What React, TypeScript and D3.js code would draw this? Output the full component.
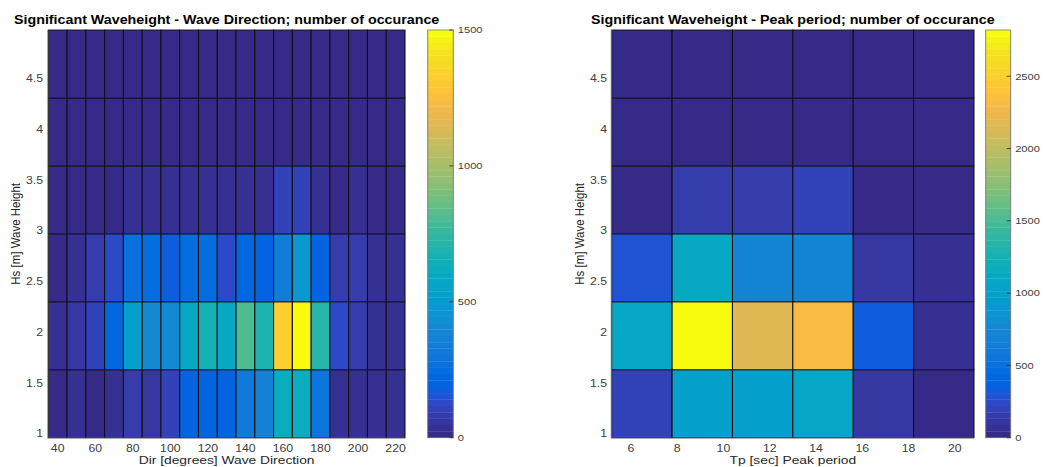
import React from "react";
import * as d3 from "d3";

// MATLAB parula(64) colormap
const PARULA: number[][] = [
  [0.2081, 0.1663, 0.5292], [0.2116, 0.1898, 0.5777], [0.2123, 0.2138, 0.627], [0.2081, 0.2386, 0.6771],
  [0.1959, 0.2645, 0.7279], [0.1707, 0.2919, 0.7792], [0.1253, 0.3242, 0.8303], [0.0591, 0.3598, 0.8683],
  [0.0117, 0.3875, 0.882], [0.006, 0.4086, 0.8828], [0.0165, 0.4266, 0.8786], [0.0329, 0.443, 0.872],
  [0.0498, 0.4586, 0.8641], [0.0629, 0.4737, 0.8554], [0.0723, 0.4887, 0.8467], [0.0779, 0.504, 0.8384],
  [0.0793, 0.52, 0.8312], [0.0749, 0.5375, 0.8263], [0.0641, 0.557, 0.824], [0.0488, 0.5772, 0.8228],
  [0.0343, 0.5966, 0.8199], [0.0265, 0.6137, 0.8135], [0.0239, 0.6287, 0.8038], [0.0231, 0.6418, 0.7913],
  [0.0228, 0.6535, 0.7768], [0.0267, 0.6642, 0.7607], [0.0384, 0.6743, 0.7436], [0.059, 0.6838, 0.7254],
  [0.0843, 0.6928, 0.7062], [0.1133, 0.7015, 0.6859], [0.1453, 0.7098, 0.6646], [0.1801, 0.7177, 0.6424],
  [0.2178, 0.725, 0.6193], [0.2586, 0.7317, 0.5954], [0.3022, 0.7376, 0.5712], [0.3482, 0.7424, 0.5473],
  [0.3953, 0.7459, 0.5244], [0.442, 0.7481, 0.5033], [0.4871, 0.7491, 0.484], [0.53, 0.7491, 0.4661],
  [0.5709, 0.7485, 0.4494], [0.6099, 0.7473, 0.4337], [0.6473, 0.7456, 0.4188], [0.6834, 0.7435, 0.4044],
  [0.7184, 0.7411, 0.3905], [0.7525, 0.7384, 0.3768], [0.7858, 0.7356, 0.3633], [0.8185, 0.7327, 0.3498],
  [0.8507, 0.7299, 0.336], [0.8824, 0.7274, 0.3217], [0.9139, 0.7258, 0.3063], [0.945, 0.7261, 0.2886],
  [0.9739, 0.7314, 0.2666], [0.9938, 0.7455, 0.2403], [0.999, 0.7653, 0.2164], [0.9955, 0.7861, 0.1967],
  [0.988, 0.8066, 0.1794], [0.9789, 0.8271, 0.1633], [0.9697, 0.8481, 0.1475], [0.9626, 0.8705, 0.1309],
  [0.9589, 0.8949, 0.1132], [0.9598, 0.9218, 0.0948], [0.9661, 0.9514, 0.0755], [0.9763, 0.9831, 0.0538],
];
const parulaColors = PARULA.map(([r, g, b]) => d3.rgb(r * 255, g * 255, b * 255).formatHex());

// Significant wave height bins (m), shared by both panels
const hsEdges = [0.96, 1.63, 2.3, 2.97, 3.64, 4.31, 4.98];
const hsTicks = [1, 1.5, 2, 2.5, 3, 3.5, 4, 4.5];

// Wave direction bins (deg), 10-degree wide, centred on these values
const dirCenters = [40, 50, 60, 70, 80, 90, 100, 110, 120, 130, 140, 150, 160, 170, 180, 190, 200, 210, 220];
const dirTicks = [40, 60, 80, 100, 120, 140, 160, 180, 200, 220];
// counts per Hs bin (lowest first), one value per direction bin
const dirCounts = [
  [20, 25, 20, 40, 75, 55, 95, 200, 200, 190, 310, 370, 630, 630, 300, 40, 25, 25, 30],
  [30, 70, 100, 230, 525, 400, 420, 600, 660, 600, 810, 700, 1320, 1500, 720, 120, 90, 40, 25],
  [20, 30, 90, 120, 270, 250, 180, 250, 250, 140, 230, 210, 330, 480, 200, 90, 85, 45, 30],
  [15, 15, 15, 20, 40, 40, 40, 40, 35, 35, 30, 25, 100, 115, 40, 20, 25, 20, 15],
  [5, 6, 8, 10, 12, 12, 10, 12, 10, 12, 10, 8, 15, 15, 10, 8, 8, 6, 5],
  [1, 1, 2, 2, 3, 3, 2, 3, 2, 3, 2, 2, 4, 4, 2, 2, 1, 1, 1],
];
const dirColorTicks = [0, 500, 1000, 1500];

// Peak period bins (s)
const tpEdges = [5.17, 7.78, 10.39, 13.0, 15.61, 18.22, 20.83];
const tpTicks = [6, 8, 10, 12, 14, 16, 18, 20];
const tpCounts = [
  [200, 990, 980, 1070, 100, 40],
  [1100, 2820, 2200, 2310, 340, 50],
  [290, 1130, 730, 740, 110, 50],
  [30, 150, 150, 180, 40, 30],
  [8, 20, 18, 20, 10, 6],
  [2, 4, 4, 4, 2, 1],
];
const tpColorTicks = [0, 500, 1000, 1500, 2000, 2500];

const W = 1049;
const H = 467;
// the figure is laid out in a narrower frame and widened to the page
const SX = 1.17;
const hx = (p: number) => p / SX;

const FONT = "'Liberation Sans', Arial, Helvetica, sans-serif";
const TOP = 30;
const BOTTOM = 437.7;

type PanelProps = {
  title: string;
  xLabel: string;
  xEdges: number[];
  xTicks: number[];
  counts: number[][];
  colorTicks: number[];
  ax0: number;
  ax1: number;
  cb0: number;
  cb1: number;
  yTickX: number;
  yLabelX: number;
};

function Panel(p: PanelProps) {
  const x = d3.scaleLinear().domain([p.xEdges[0], p.xEdges[p.xEdges.length - 1]]).range([hx(p.ax0), hx(p.ax1)]);
  const y = d3.scaleLinear().domain([hsEdges[0], hsEdges[hsEdges.length - 1]]).range([BOTTOM, TOP]);
  const vmax = d3.max(p.counts.flat()) as number;
  const color = d3.scaleQuantize<string>().domain([0, vmax]).range(parulaColors);
  const cbY = d3.scaleLinear().domain([0, vmax]).range([BOTTOM, TOP]);
  const nC = parulaColors.length;
  const cx0 = hx(p.cb0);
  const cx1 = hx(p.cb1);
  const midX = (hx(p.ax0) + hx(p.ax1)) / 2;

  return (
    <g>
      <text x={midX} y={24} textAnchor="middle" fontFamily={FONT} fontWeight="bold" fontSize={12.2} fill="#000">
        {p.title}
      </text>
      {p.counts.map((row, ri) =>
        row.map((v, ci) => (
          <rect
            key={`${ri}-${ci}`}
            x={x(p.xEdges[ci])}
            y={y(hsEdges[ri + 1])}
            width={x(p.xEdges[ci + 1]) - x(p.xEdges[ci])}
            height={y(hsEdges[ri]) - y(hsEdges[ri + 1])}
            fill={color(v)}
            stroke="#111"
            strokeWidth={0.9}
          />
        ))
      )}
      {/* axis lines */}
      <line x1={hx(p.ax0) - 0.4} x2={hx(p.ax1)} y1={BOTTOM + 0.6} y2={BOTTOM + 0.6} stroke="#9a9a9a" strokeWidth={0.9} />
      <line x1={hx(p.ax0) - 0.5} x2={hx(p.ax0) - 0.5} y1={TOP} y2={BOTTOM + 0.6} stroke="#9a9a9a" strokeWidth={0.8} />
      {hsTicks.map((t) => (
        <text key={t} x={hx(p.yTickX)} y={y(t)} dy="0.35em" textAnchor="end" fontFamily={FONT} fontSize={10.5} fill="#404040">
          {t}
        </text>
      ))}
      {p.xTicks.map((t) => (
        <text key={t} x={x(t)} y={452} textAnchor="middle" fontFamily={FONT} fontSize={10.5} fill="#404040">
          {t}
        </text>
      ))}
      <text x={midX} y={464.3} textAnchor="middle" fontFamily={FONT} fontSize={11.8} fill="#262626">
        {p.xLabel}
      </text>
      <text
        transform={`translate(${hx(p.yLabelX)},${(TOP + BOTTOM) / 2}) rotate(-90)`}
        textAnchor="middle"
        fontFamily={FONT}
        fontSize={11.5}
        fill="#262626"
      >
        Hs [m] Wave Height
      </text>
      {/* colorbar */}
      {parulaColors.map((c, i) => (
        <rect
          key={i}
          x={cx0}
          y={cbY(((i + 1) * vmax) / nC)}
          width={cx1 - cx0}
          height={cbY((i * vmax) / nC) - cbY(((i + 1) * vmax) / nC) + 0.3}
          fill={c}
        />
      ))}
      <rect x={cx0} y={TOP} width={cx1 - cx0} height={BOTTOM - TOP} fill="none" stroke="#7a7a7a" strokeWidth={0.8} />
      {p.colorTicks.map((t) => (
        <g key={t}>
          <line x1={cx1 - hx(4)} x2={cx1} y1={cbY(t)} y2={cbY(t)} stroke="#333" strokeWidth={0.8} />
          <text x={cx1 + hx(4.5)} y={cbY(t)} dy="0.35em" fontFamily={FONT} fontSize={9.5} fill="#404040">
            {t}
          </text>
        </g>
      ))}
    </g>
  );
}

export default function App() {
  return (
    <svg
      width={W}
      height={H}
      viewBox={`0 0 ${W / SX} ${H}`}
      preserveAspectRatio="none"
      style={{ position: "absolute", left: 0, top: 0, background: "#fff" }}
    >
      <rect x={0} y={0} width={W / SX} height={H} fill="#fff" />
      <Panel
        title="Significant Waveheight - Wave Direction; number of occurance"
        xLabel="Dir [degrees] Wave Direction"
        xEdges={[...dirCenters.map((c) => c - 5), dirCenters[dirCenters.length - 1] + 5]}
        xTicks={dirTicks}
        counts={dirCounts}
        colorTicks={dirColorTicks}
        ax0={48.3}
        ax1={405}
        cb0={427.7}
        cb1={453.3}
        yTickX={43}
        yLabelX={19.5}
      />
      <Panel
        title="Significant Waveheight - Peak period; number of occurance"
        xLabel="Tp [sec] Peak period"
        xEdges={tpEdges}
        xTicks={tpTicks}
        counts={tpCounts}
        colorTicks={tpColorTicks}
        ax0={611.7}
        ax1={974}
        cb0={985.7}
        cb1={1010.7}
        yTickX={607}
        yLabelX={583.5}
      />
    </svg>
  );
}
